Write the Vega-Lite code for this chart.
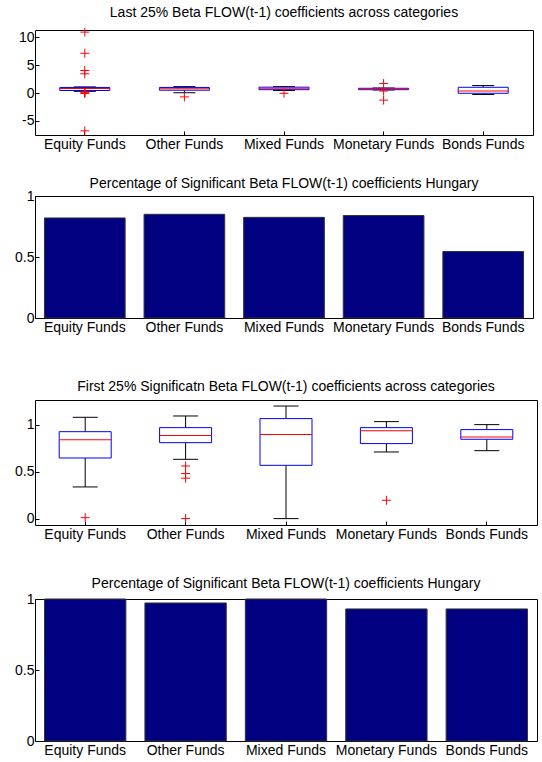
{
  "$schema": "https://vega.github.io/schema/vega-lite/v6.json",
  "padding": {"left": 14, "top": 5, "right": 0, "bottom": 0},
  "background": "white",
  "config": {
    "font": "Liberation Sans",
    "view": {"stroke": "black", "strokeWidth": 1},
    "axis": {"domain": false, "grid": false, "labelFontSize": 14, "labelColor": "black", "tickColor": "black", "tickSize": -4, "title": null, "labelPadding": 5, "labelOverlap": false, "labelFlush": false},
    "axisX": {"labelAngle": 0, "labelPadding": 6},
    "axisY": {"labelExpr": "'' + datum.value"},
    "title": {"fontSize": 14, "fontWeight": "normal", "font": "Liberation Sans", "color": "black", "anchor": "middle", "offset": 6}
  },
  "datasets": {
    "box1": [
      {"cat": "Equity Funds", "lo": 0.3, "q1": 0.45, "med": 0.8, "q3": 1.0, "hi": 1.1},
      {"cat": "Other Funds", "lo": 0.05, "q1": 0.5, "med": 0.75, "q3": 1.0, "hi": 1.15},
      {"cat": "Mixed Funds", "lo": 0.45, "q1": 0.6, "med": 0.85, "q3": 1.05, "hi": 1.15},
      {"cat": "Monetary Funds", "lo": 0.55, "q1": 0.6, "med": 0.72, "q3": 0.85, "hi": 0.9},
      {"cat": "Bonds Funds", "lo": -0.26, "q1": -0.05, "med": 0.37, "q3": 1.03, "hi": 1.34}
    ],
    "out1": [
      {"cat": "Equity Funds", "v": 10.95},
      {"cat": "Equity Funds", "v": 7.15},
      {"cat": "Equity Funds", "v": 4.05},
      {"cat": "Equity Funds", "v": 3.45},
      {"cat": "Equity Funds", "v": 0.2},
      {"cat": "Equity Funds", "v": 0.05},
      {"cat": "Equity Funds", "v": -0.1},
      {"cat": "Equity Funds", "v": -6.8},
      {"cat": "Other Funds", "v": -0.7},
      {"cat": "Mixed Funds", "v": -0.05},
      {"cat": "Monetary Funds", "v": 1.7},
      {"cat": "Monetary Funds", "v": 0.35},
      {"cat": "Monetary Funds", "v": -1.28}
    ],
    "bar2": [
      {"cat": "Equity Funds", "v": 0.82},
      {"cat": "Other Funds", "v": 0.85},
      {"cat": "Mixed Funds", "v": 0.825},
      {"cat": "Monetary Funds", "v": 0.84},
      {"cat": "Bonds Funds", "v": 0.545}
    ],
    "box3": [
      {"cat": "Equity Funds", "lo": 0.337, "q1": 0.645, "med": 0.84, "q3": 0.925, "hi": 1.078},
      {"cat": "Other Funds", "lo": 0.631, "q1": 0.808, "med": 0.883, "q3": 0.968, "hi": 1.092},
      {"cat": "Mixed Funds", "lo": 0.0, "q1": 0.567, "med": 0.894, "q3": 1.064, "hi": 1.198},
      {"cat": "Monetary Funds", "lo": 0.709, "q1": 0.798, "med": 0.936, "q3": 0.968, "hi": 1.032},
      {"cat": "Bonds Funds", "lo": 0.723, "q1": 0.844, "med": 0.868, "q3": 0.947, "hi": 1.0}
    ],
    "out3": [
      {"cat": "Equity Funds", "v": 0.01},
      {"cat": "Other Funds", "v": 0.56},
      {"cat": "Other Funds", "v": 0.48},
      {"cat": "Other Funds", "v": 0.43},
      {"cat": "Other Funds", "v": 0.0},
      {"cat": "Monetary Funds", "v": 0.195}
    ],
    "bar4": [
      {"cat": "Equity Funds", "v": 1.0},
      {"cat": "Other Funds", "v": 0.972},
      {"cat": "Mixed Funds", "v": 1.0},
      {"cat": "Monetary Funds", "v": 0.93},
      {"cat": "Bonds Funds", "v": 0.93}
    ]
  },
  "spacing": 44,
  "vconcat": [
    {
      "spacing": 24,
      "vconcat": [
        {
          "width": 498, "height": 105,
          "title": {"text": "Last 25% Beta FLOW(t-1) coefficients  across categories", "offset": 6},
          "data": {"name": "box1"},
          "encoding": {
            "x": {"field": "cat", "type": "nominal", "scale": {"domain": ["Equity Funds", "Other Funds", "Mixed Funds", "Monetary Funds", "Bonds Funds"], "paddingInner": 0.19, "paddingOuter": 0.095}, "axis": {"labelAngle": 0}}
          },
          "layer": [
            {"mark": {"type": "rule", "color": "black"}, "encoding": {"y": {"field": "lo", "type": "quantitative", "scale": {"domain": [-7.55, 11.33], "nice": false, "zero": false}, "axis": {"values": [-5, 0, 5, 10], "labelOverlap": false, "labelBound": false, "labelFlush": false, "tickCount": 4}}, "y2": {"field": "q1"}}},
            {"mark": {"type": "rule", "color": "black"}, "encoding": {"y": {"field": "q3", "type": "quantitative"}, "y2": {"field": "hi"}}},
            {"mark": {"type": "tick", "color": "black", "size": 22, "thickness": 1, "opacity": 1}, "encoding": {"y": {"field": "lo", "type": "quantitative"}}},
            {"mark": {"type": "tick", "color": "black", "size": 22, "thickness": 1, "opacity": 1}, "encoding": {"y": {"field": "hi", "type": "quantitative"}}},
            {"mark": {"type": "bar", "width": 50, "fill": "white", "stroke": "blue", "strokeWidth": 1}, "encoding": {"y": {"field": "q1", "type": "quantitative"}, "y2": {"field": "q3"}}},
            {"mark": {"type": "tick", "color": "red", "size": 50, "thickness": 1, "opacity": 1}, "encoding": {"y": {"field": "med", "type": "quantitative"}}},
            {"data": {"name": "out1"}, "mark": {"type": "point", "shape": "M-1,0L1,0M0,-1L0,1", "filled": false, "stroke": "red", "strokeWidth": 1, "size": 80, "opacity": 1}, "encoding": {"y": {"field": "v", "type": "quantitative"}}}
          ]
        },
        {
          "width": 498, "height": 122,
          "title": {"text": "Percentage of Significant Beta FLOW(t-1) coefficients Hungary", "offset": -2},
          "data": {"name": "bar2"},
          "mark": {"type": "bar", "fill": "#000080", "stroke": "#333333", "strokeWidth": 1},
          "encoding": {
            "x": {"field": "cat", "type": "nominal", "scale": {"domain": ["Equity Funds", "Other Funds", "Mixed Funds", "Monetary Funds", "Bonds Funds"], "paddingInner": 0.19, "paddingOuter": 0.095}, "axis": {"labelAngle": 0}},
            "y": {"field": "v", "type": "quantitative", "scale": {"domain": [0, 1], "nice": false}, "axis": {"values": [0, 0.5, 1]}}
          }
        }
      ]
    },
    {
      "spacing": 34,
      "vconcat": [
        {
          "width": 502, "height": 125,
          "title": {"text": "First 25% Significatn Beta FLOW(t-1) coefficients  across categories", "offset": 6},
          "data": {"name": "box3"},
          "encoding": {
            "x": {"field": "cat", "type": "nominal", "scale": {"domain": ["Equity Funds", "Other Funds", "Mixed Funds", "Monetary Funds", "Bonds Funds"], "paddingInner": 0.19, "paddingOuter": 0.095}, "axis": {"labelAngle": 0}}
          },
          "layer": [
            {"mark": {"type": "rule", "color": "black"}, "encoding": {"y": {"field": "lo", "type": "quantitative", "scale": {"domain": [-0.068, 1.262], "nice": false, "zero": false}, "axis": {"values": [0, 0.5, 1]}}, "y2": {"field": "q1"}}},
            {"mark": {"type": "rule", "color": "black"}, "encoding": {"y": {"field": "q3", "type": "quantitative"}, "y2": {"field": "hi"}}},
            {"mark": {"type": "tick", "color": "black", "size": 25, "thickness": 1, "opacity": 1}, "encoding": {"y": {"field": "lo", "type": "quantitative"}}},
            {"mark": {"type": "tick", "color": "black", "size": 25, "thickness": 1, "opacity": 1}, "encoding": {"y": {"field": "hi", "type": "quantitative"}}},
            {"mark": {"type": "bar", "width": 52, "fill": "white", "stroke": "blue", "strokeWidth": 1}, "encoding": {"y": {"field": "q1", "type": "quantitative"}, "y2": {"field": "q3"}}},
            {"mark": {"type": "tick", "color": "red", "size": 52, "thickness": 1, "opacity": 1}, "encoding": {"y": {"field": "med", "type": "quantitative"}}},
            {"data": {"name": "out3"}, "mark": {"type": "point", "shape": "M-1,0L1,0M0,-1L0,1", "filled": false, "stroke": "red", "strokeWidth": 1, "size": 80, "opacity": 1}, "encoding": {"y": {"field": "v", "type": "quantitative"}}}
          ]
        },
        {
          "width": 502, "height": 142,
          "title": {"text": "Percentage of Significant Beta FLOW(t-1) coefficients Hungary", "offset": 1},
          "data": {"name": "bar4"},
          "mark": {"type": "bar", "fill": "#000080", "stroke": "#333333", "strokeWidth": 1},
          "encoding": {
            "x": {"field": "cat", "type": "nominal", "scale": {"domain": ["Equity Funds", "Other Funds", "Mixed Funds", "Monetary Funds", "Bonds Funds"], "paddingInner": 0.19, "paddingOuter": 0.095}, "axis": {"labelAngle": 0}},
            "y": {"field": "v", "type": "quantitative", "scale": {"domain": [0, 1], "nice": false}, "axis": {"values": [0, 0.5, 1]}}
          }
        }
      ]
    }
  ]
}
